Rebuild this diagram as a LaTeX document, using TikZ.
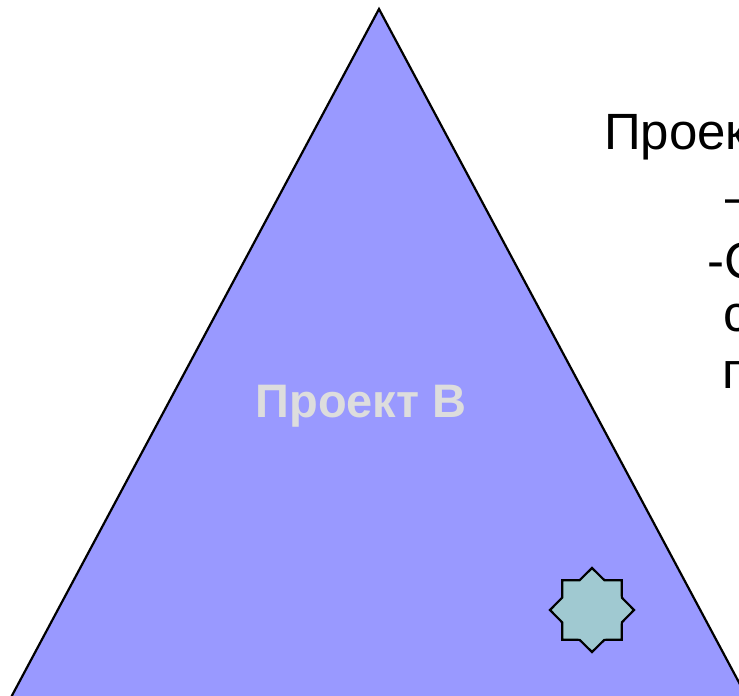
\documentclass[tikz,border=0pt]{standalone}
\usepackage{fontspec}
\setmainfont{Liberation Sans}
\usepackage{tikz}
\usetikzlibrary{shapes.geometric}
\definecolor{projblue}{RGB}{153, 153, 255}
\definecolor{labelgray}{RGB}{221, 221, 221}
\definecolor{starteal}{RGB}{160, 201, 209}

\begin{document}
\begin{tikzpicture}[
    x=1pt, y=-1pt,
    side/.style={draw=black, line width=2.2pt, fill=projblue, line join=miter},
    mark8/.style={star, star points=8, star point ratio=1.3, minimum size=84pt, inner sep=0pt, draw=black, line width=2.2pt, fill=starteal},
    title/.style={anchor=base, inner sep=0pt, text=labelgray, font=\fontsize{47}{47}\selectfont\bfseries},
    note/.style={anchor=base west, inner sep=0pt, font=\fontsize{51}{51}\selectfont}
  ]
    \useasboundingbox (0,0) rectangle (739,696);
    \clip (0,0) rectangle (739,696);

    % project triangle, base runs off the page
    \coordinate (top) at (379,9);
    \coordinate (bl) at (-23,761);
    \coordinate (br) at (781,761);
    \draw[side] (top) -- (br) -- (bl) -- cycle;

    \node[title] (proj) at (361,417) {Проект В};
    \node[mark8] (risk) at (592,610) {};

    % text on the right, cut by the page edge
    \node[note] (head) at (604,149) {Проект};
    \node[note] (dash) at (725,214) {–};
    \node[note] (item) at (707,278) {-С};
    \node[note] (line4) at (723,331) {с};
    \node[note] (line5) at (722,388) {п};
  \end{tikzpicture}
\end{document}
